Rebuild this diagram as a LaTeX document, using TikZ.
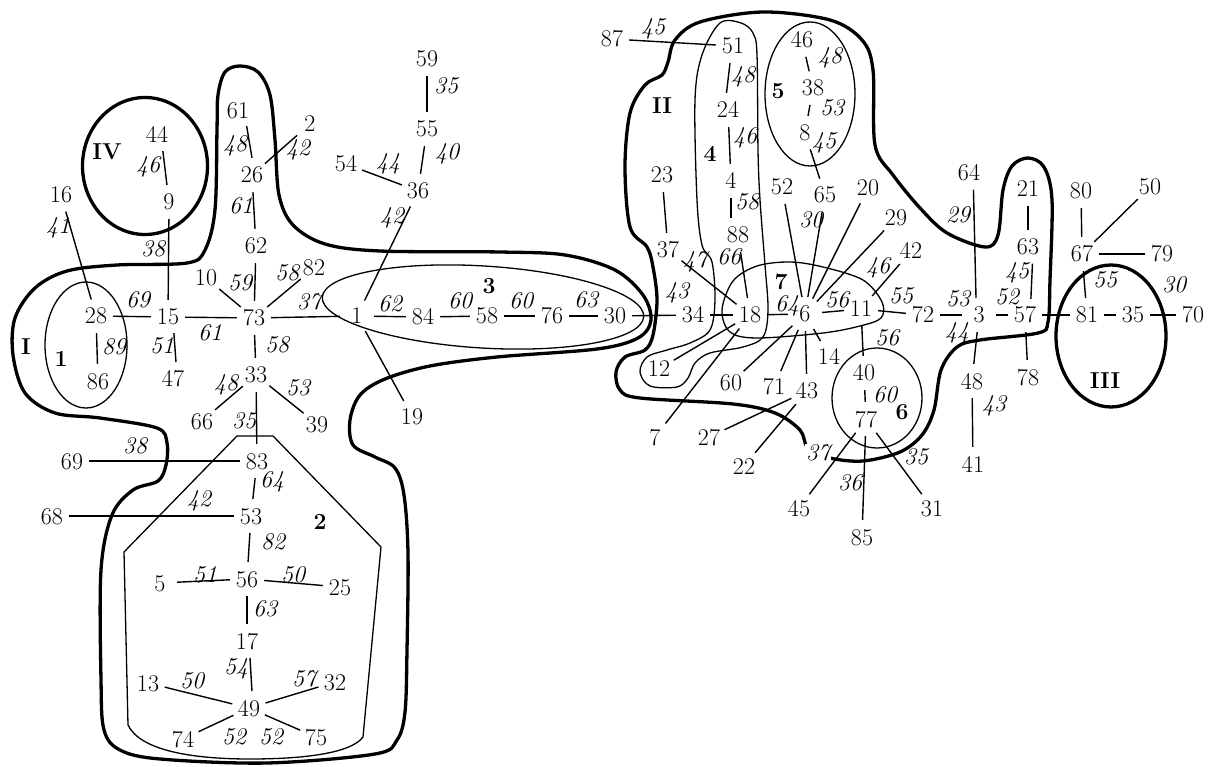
\documentclass[tikz,border=0pt]{standalone}
\usepackage{fontspec}
\begin{document}
\begin{tikzpicture}[x=1pt,y=-1pt,
  v/.style={shape=circle,inner sep=0pt,minimum size=34pt,text height=16pt,text depth=0pt,font=\fontsize{24}{28}\selectfont},
  w/.style={inner sep=0pt,font=\fontsize{24}{28}\selectfont\itshape},
  rl/.style={inner sep=0pt,font=\fontsize{23}{26}\selectfont\bfseries},
  edge/.style={line width=1.4pt},
  big/.style={line width=3.3pt},
  small/.style={line width=1.3pt}]
\useasboundingbox (0,0) rectangle (1216,767);

% ---------- thick regions ----------
\draw[big] plot[smooth cycle, tension=0.55] coordinates {
(218,95) (225,72) (240,66) (258,72) (270,95) (275,140) (279,195) (293,225) (325,244) (380,251) (500,252) (565,255) (615,270) (643,295) (651,320) (638,338) (597,349) (497,357) (430,366) (385,379) (360,395) (350,420) (353,445) (375,457) (395,468) (404,495) (408,553) (407,650) (405,712) (397,740) (375,754) (267,763) (160,759) (120,750) (104,730) (101,680) (101,570) (112,515) (133,490) (158,481) (166,465) (167,443) (157,428) (100,418) (55,413) (25,393) (13,355) (15,318) (35,288) (67,271) (117,265) (187,263) (205,250) (215,210) (217,130)};

\draw[big] plot[smooth cycle, tension=0.55] coordinates {
(668,62) (675,40) (700,22) (763,12) (830,20) (862,40) (873,70) (875,145) (893,175) (920,208) (947,233) (985,247) (998,235) (1003,190) (1012,166) (1028,158) (1044,167) (1052,200) (1050,280) (1048,322) (1038,333) (980,340) (957,347) (941,370) (934,410) (922,435) (900,452) (863,461) (830,458) (808,448) (800,430) (775,413) (733,404) (640,398) (620,390) (616,372) (625,357) (645,350) (653,335) (657,300) (653,267) (647,247) (630,227) (625,167) (630,113) (645,85) (662,75)};

\draw[big] (145,166) ellipse [x radius=62.5pt, y radius=68.5pt];
\draw[big] (1111,336) ellipse [x radius=55pt, y radius=71pt];

% ---------- thin regions ----------
\draw[small] (86,345) ellipse [x radius=41pt, y radius=63pt];
\draw[small, rotate around={-3.5:(483,307)}] (483,307) ellipse [x radius=161pt, y radius=41pt];
\draw[small] (810,94) ellipse [x radius=45pt, y radius=72pt];
\draw[small] (877,398) ellipse [x radius=45pt, y radius=50pt];
\draw[small] (124,552) -- (237,436) -- (273,436) -- (381,547) -- (363,737)
  .. controls (352,752) and (310,759) .. (250,759)
  .. controls (190,759) and (140,750) .. (128,725) -- cycle;
\draw[small] plot[smooth cycle, tension=0.55] coordinates {
(720,23) (741,23) (753,33) (757,55) (758,150) (760,200) (765,265) (768,310) (763,337) (743,347) (710,353) (695,363) (688,378) (677,387) (650,386) (640,372) (647,357) (667,350) (690,343) (710,330) (715,300) (712,262) (702,245) (697,200) (695,100) (702,55)};
\draw[small] plot[smooth cycle, tension=0.55] coordinates {
(722,310) (733,281) (757,266) (790,262) (823,267) (863,280) (882,302) (881,318) (860,326) (823,333) (757,338) (730,332)};

% ---------- vertices ----------
\foreach \n/\x/\y in {16/61/195, 28/96/316, 15/168/317, 73/254/318, 10/206/278, 82/314/268, 62/256/246, 26/252/175, 61/238/111, 2/310/124, 44/157/135, 9/169/202, 86/98/381, 47/173/379, 33/256/375, 66/202/421, 39/317/424, 69/72/461, 83/257/461, 68/52/516, 53/251/516, 56/247/579, 5/160/583, 25/340/587, 17/247/641, 13/148/683, 32/335/682, 49/249/708, 74/183/739, 75/316/737, 59/427/59, 55/427/129, 54/346/164, 36/418/191, 1/357/316, 84/423/317, 58/487/316, 76/552/316, 30/615/316, 19/412/416, 34/693/315, 87/612/39, 51/733/46, 24/728/110, 4/731/181, 88/738/235, 23/662/175, 37/668/250, 46/802/40, 38/813/88, 8/805/133, 52/782/187, 65/825/195, 20/868/188, 29/896/218, 42/911/251, 18/750/315, 6/805/314, 11/861/309, 72/923/315, 12/659/369, 60/731/383, 71/774/387, 43/807/391, 14/829/356, 40/864/373, 77/866/419, 7/655/437, 27/709/437, 22/744/466, 45/799/508, 85/862/537, 31/932/508, 64/969/173, 3/979/315, 57/1025/315, 48/972/381, 41/973/464, 21/1028/189, 63/1028/247, 78/1028/377, 80/1081/191, 50/1150/187, 67/1082/254, 79/1162/254, 81/1087/315, 35/1133/315, 70/1193/315}
  \node[v] (n\n) at (\x,\y) {\n};

% ---------- edges ----------
\foreach \a/\b in {16/28, 28/15, 28/86, 9/15, 15/73, 10/73, 62/73, 73/82, 73/1, 73/33, 26/62, 26/2, 33/66, 33/39, 33/83, 83/69, 83/53, 53/68, 53/56, 56/5, 56/25, 56/17, 49/13, 49/32, 49/74, 49/75, 59/55, 55/36, 54/36, 36/1, 1/19, 1/84, 84/58, 58/76, 76/30, 30/34, 34/18, 37/18, 88/18, 18/6, 18/12, 18/7, 23/37, 87/51, 24/4, 46/38, 38/8, 8/65, 52/6, 65/6, 20/6, 29/6, 42/11, 6/11, 11/72, 11/40, 6/14, 6/43, 6/71, 6/60, 40/77, 43/27, 43/22, 77/45, 77/85, 77/31, 72/3, 3/57, 3/48, 48/41, 21/63, 57/78, 57/81, 80/67, 50/67, 67/79, 67/81, 81/35, 35/70}
  \draw[edge] (n\a) -- (n\b);
\draw[edge] (n61.-60) -- (n26.north);
\draw[edge] (n44.-70) -- (n9);
\draw[edge] (n15.-70) -- (n47.80);
\draw[edge] (n17.-80) -- (n49.80);
\draw[edge] (n51.-100) -- (n24.95);
\draw[edge] (n4.south) -- (n4.south |- n88.north);
\draw[edge] (n63.-75) -- (n57.70);
\draw[edge] (n64.-75) -- (n3.100);

% ---------- weights ----------
\foreach \i/\x/\y/\t in {1/58/228/41, 2/138/300/69, 3/114/347/89, 4/148/167/46, 5/153/249/38, 6/162/346/51, 7/210/333/61, 8/240/283/59, 9/287/273/58, 10/309/302/37, 11/241/206/61, 12/235/146/48, 13/298/150/42, 14/277/345/58, 15/226/385/48, 16/298/388/53, 17/244/421/35, 18/135/446/38, 19/272/482/64, 20/199/501/42, 21/273/542/82, 22/205/575/51, 23/293/575/50, 24/265/609/63, 25/236/669/54, 26/192/681/50, 27/304/679/57, 28/234/737/52, 29/271/737/52, 30/446/86/35, 31/447/154/40, 32/388/164/44, 33/392/218/42, 34/390/304/62, 35/460/301/60, 36/521/301/60, 37/586/300/63, 38/677/293/43, 39/653/29/45, 40/743/77/48, 41/745/138/46, 42/747/202/58, 43/729/257/66, 44/695/262/47, 45/830/58/48, 46/832/108/53, 47/824/143/45, 48/811/220/30, 49/878/268/46, 50/787/306/64, 51/837/300/56, 52/901/296/55, 53/887/338/56, 54/885/395/60, 56/916/457/35, 57/850/483/36, 58/958/215/29, 59/958/299/53, 60/1007/297/52, 61/957/333/44, 62/994/406/43, 63/1017/273/45, 64/1105/280/55, 65/1174/285/30}
  \node[w] (w\i) at (\x,\y) {\t};
\node[w, fill=white, inner sep=1pt] (w55) at (818,453) {37};

% ---------- region names ----------
\node[rl] (rI) at (26,347) {I};
\node[rl] (rII) at (662,106) {II};
\node[rl] (rIII) at (1105,381) {III};
\node[rl] (rIV) at (107,152) {IV};
\node[rl] (r1) at (61,359) {1};
\node[rl] (r2) at (320,522) {2};
\node[rl] (r3) at (489,286) {3};
\node[rl] (r4) at (710,154) {4};
\node[rl] (r5) at (778,91) {5};
\node[rl] (r6) at (902,412) {6};
\node[rl] (r7) at (781,282) {7};
\end{tikzpicture}
\end{document}
